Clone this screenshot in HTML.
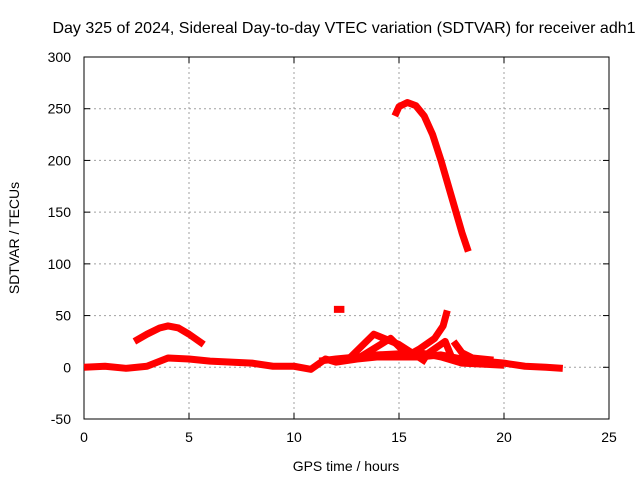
<!DOCTYPE html>
<html><head><meta charset="utf-8"><style>
body{margin:0;background:#fff;width:640px;height:480px;overflow:hidden}
text{font-family:"Liberation Sans",sans-serif;font-size:14px;fill:#000}
</style></head><body>
<svg id="chart" width="640" height="480" xmlns="http://www.w3.org/2000/svg">
<rect width="640" height="480" fill="#fff"/>
<text x="344" y="33" text-anchor="middle" style="font-size:16px">Day 325 of 2024, Sidereal Day-to-day VTEC variation (SDTVAR) for receiver adh1</text>
<g id="grid"></g>
<g id="axes"></g>
<g id="series"></g>
<text x="346" y="471" text-anchor="middle">GPS time / hours</text>
<text transform="translate(19,238) rotate(-90)" text-anchor="middle">SDTVAR / TECUs</text>
</svg>
<script>
const xTicks=[0,5,10,15,20,25];
const yTicks=[-50,0,50,100,150,200,250,300];
const segBase=[[0,0],[1,1],[2,-1],[3,1],[4,9],[5,8],[6,6],[7,5],[8,4],[9,1],[10,1],[10.8,-2],[11.5,8],[12,5],[13,8],[14,10],[15,10],[16,10],[17,12],[18,8],[19,6],[20,4],[21,1],[22,0],[22.8,-1]];
const segBase2=[[11.2,6],[12,8],[13,10],[14,12],[16,14],[17,10],[18,4],[19,3],[20,2]];
const segArc=[[2.4,25],[3,32],[3.6,38],[4,40],[4.5,38],[5,32],[5.7,22]];
const segDot=[[11.9,56],[12.4,56]];
const segBig=[[14.8,243],[15,252],[15.4,256],[15.8,253],[16.2,243],[16.6,225],[17,200],[17.5,165],[18,130],[18.3,112]];
const segSpike=[[15.3,10],[16,18],[16.7,28],[17.1,40],[17.3,55]];
const segCross1=[[12.7,10],[13.8,32],[15,22],[16.3,5]];
const segCross2=[[13,8],[14.6,28],[15.5,10]];
const segCross3=[[16,8],[17.2,25],[17.5,10]];
const segTail=[[17.6,25],[18,14],[18.5,9],[19.5,7]];
const allSegs=[segBase,segBase2,segArc,segDot,segBig,segSpike,segCross1,segCross2,segCross3,segTail];
const X0=84,X1=609,Y0=419,Y1=57;
const sx=v=>X0+(v-0)/(25-0)*(X1-X0);
const sy=v=>Y0-(v+50)/(350)*(Y0-Y1);
const NS="http://www.w3.org/2000/svg";
const grid=document.getElementById('grid'),axes=document.getElementById('axes'),ser=document.getElementById('series');
function mk(tag,attrs,parent){const e=document.createElementNS(NS,tag);for(const k in attrs)e.setAttribute(k,attrs[k]);parent.appendChild(e);return e;}
xTicks.forEach(t=>{
 if(t>0&&t<25){const g=mk('line',{x1:sx(t),x2:sx(t),y1:Y1,y2:Y0,stroke:'#a0a0a0','stroke-dasharray':'2,3'},grid);
 
 }
 const tk=mk('line',{x1:sx(t),x2:sx(t),y1:Y0,y2:Y0-6,stroke:'#000'},axes);
 
 
 const tk2=mk('line',{x1:sx(t),x2:sx(t),y1:Y1,y2:Y1+6,stroke:'#000'},axes);
 
 
 const l=mk('text',{x:sx(t),y:Y0+23,'text-anchor':'middle'},axes);l.textContent=t;
 
 
});
yTicks.forEach(t=>{
 if(t>-50&&t<300){const g=mk('line',{x1:X0,x2:X1,y1:sy(t),y2:sy(t),stroke:'#a0a0a0','stroke-dasharray':'2,3'},grid);
 
 }
 const tk=mk('line',{x1:X0,x2:X0+6,y1:sy(t),y2:sy(t),stroke:'#000'},axes);
 
 
 const tk2=mk('line',{x1:X1,x2:X1-6,y1:sy(t),y2:sy(t),stroke:'#000'},axes);
 
 
 const l=mk('text',{x:X0-13,y:sy(t)+5,'text-anchor':'end'},axes);l.textContent=t;
 
 
});
const fr=mk('rect',{x:X0,y:Y1,width:X1-X0,height:Y0-Y1,fill:'none',stroke:'#000'},axes);


allSegs.forEach(s=>{
 const p=mk('polyline',{points:s.map(d=>sx(d[0])+','+sy(d[1])).join(' '),fill:'none',stroke:'#ff0000','stroke-width':7,'stroke-linejoin':'round','stroke-linecap':'butt'},ser);
 
 
});
</script>
</body></html>
